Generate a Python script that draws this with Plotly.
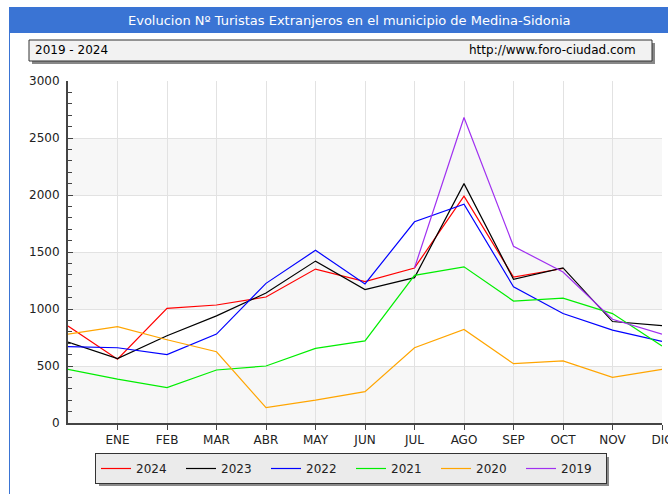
import plotly.graph_objects as go

# x positions: first point sits on the y axis (no label), then ENE..DIC
months = ["", "ENE", "FEB", "MAR", "ABR", "MAY", "JUN", "JUL", "AGO", "SEP", "OCT", "NOV", "DIC"]

y2024 = [850, 560, 1005, 1035, 1105, 1350, 1240, 1360, 1990, 1280, 1355, None, None]
y2023 = [710, 565, 765, 940, 1140, 1420, 1170, 1275, 2100, 1260, 1360, 890, 855]
y2022 = [670, 660, 600, 780, 1225, 1515, 1220, 1765, 1920, 1195, 960, 815, 715]
y2021 = [470, 385, 310, 465, 500, 655, 720, 1295, 1370, 1070, 1095, 960, 675]
y2020 = [780, 845, 730, 625, 135, 200, 275, 660, 820, 520, 545, 400, 470]
y2019 = [None, None, None, None, None, None, None, 1360, 2680, 1550, 1325, 910, 780]

series = [
    ("2024", y2024, "#ff0000"),
    ("2023", y2023, "#000000"),
    ("2022", y2022, "#0000ff"),
    ("2021", y2021, "#00ee00"),
    ("2020", y2020, "#ffa500"),
    ("2019", y2019, "#a030f0"),
]

W, H = 668, 494
L, R, T, B = 68, 6, 81, 71
pw, ph = W - L - R, H - T - B


def px(x):
    return (x - L) / pw


def py(y):
    return (H - B - y) / ph


fig = go.Figure()
xs = list(range(len(months)))
for name, vals, col in series:
    fig.add_trace(go.Scatter(x=xs, y=vals, mode="lines", name=name,
                             line=dict(color=col, width=1.2)))

shapes = []
# alternating bands
for lo in (0, 1000, 2000):
    shapes.append(dict(type="rect", xref="x", yref="y", x0=0, x1=12, y0=lo, y1=lo + 500,
                       fillcolor="#f7f7f7", line=dict(width=0), layer="below"))
# title bar
shapes.append(dict(type="rect", xref="paper", yref="paper", x0=px(9), x1=px(700), y0=py(33), y1=py(7),
                   fillcolor="#3a74d4", line=dict(width=0)))
shapes.append(dict(type="line", xref="paper", yref="paper", x0=px(9.5), x1=px(9.5), y0=py(494), y1=py(33),
                   line=dict(color="#3a74d4", width=1)))
# subtitle box with shadow
shapes.append(dict(type="rect", xref="paper", yref="paper", x0=px(32), x1=px(655), y0=py(64), y1=py(43),
                   fillcolor="#888888", line=dict(width=0)))
shapes.append(dict(type="rect", xref="paper", yref="paper", x0=px(29), x1=px(652), y0=py(61), y1=py(40),
                   fillcolor="#f2f2f2", line=dict(color="#333333", width=1)))
# legend shadow
shapes.append(dict(type="rect", xref="paper", yref="paper", x0=px(99), x1=px(609), y0=py(486), y1=py(457),
                   fillcolor="#8a8a8a", line=dict(width=0)))

annotations = [
    dict(text="Evolucion Nº Turistas Extranjeros en el municipio de Medina-Sidonia", xref="paper", yref="paper",
         x=px(349), y=py(20), xanchor="center", yanchor="middle", showarrow=False,
         font=dict(family="DejaVu Sans", size=13, color="white")),
    dict(text="2019 - 2024", xref="paper", yref="paper", x=px(33), y=py(50.5), xanchor="left", yanchor="middle",
         showarrow=False, font=dict(family="DejaVu Sans", size=12, color="black")),
    dict(text="http://www.foro-ciudad.com", xref="paper", yref="paper", x=px(638), y=py(50.5), xanchor="right",
         yanchor="middle", showarrow=False, font=dict(family="DejaVu Sans", size=12, color="black")),
]

fig.update_layout(
    width=W, height=H,
    margin=dict(l=L, r=R, t=T, b=B, autoexpand=False),
    paper_bgcolor="white", plot_bgcolor="white",
    font=dict(family="DejaVu Sans", size=12, color="#222222"),
    shapes=shapes, annotations=annotations,
    showlegend=True,
    legend=dict(orientation="h", x=px(95), y=py(453), xanchor="left", yanchor="top",
                bgcolor="#ebebeb", bordercolor="#333333", borderwidth=1,
                entrywidth=40, itemwidth=30, font=dict(size=12, color="#222222")),
)

fig.update_xaxes(range=[0, 12], tickvals=xs[1:], ticktext=months[1:], showgrid=True, gridcolor="#e2e2e2",
                 gridwidth=1, showline=True, linecolor="#444444", linewidth=2, ticks="outside", ticklen=5,
                 tickcolor="#444444", zeroline=False, fixedrange=True, ticklabeloverflow="allow")
fig.update_yaxes(range=[0, 3000], dtick=500, showgrid=True, gridcolor="#e2e2e2", gridwidth=1,
                 showline=True, linecolor="#444444", linewidth=2, ticks="inside", ticklen=5,
                 tickcolor="#444444", zeroline=False, ticklabelstandoff=4,
                 minor=dict(dtick=100, ticks="inside", ticklen=4, tickcolor="#444444", showgrid=False))

# drop the default page margin so the figure sits at the window origin
fig.write_html("out.html", config={"displayModeBar": False},
               post_script="document.body.style.margin='0';")
